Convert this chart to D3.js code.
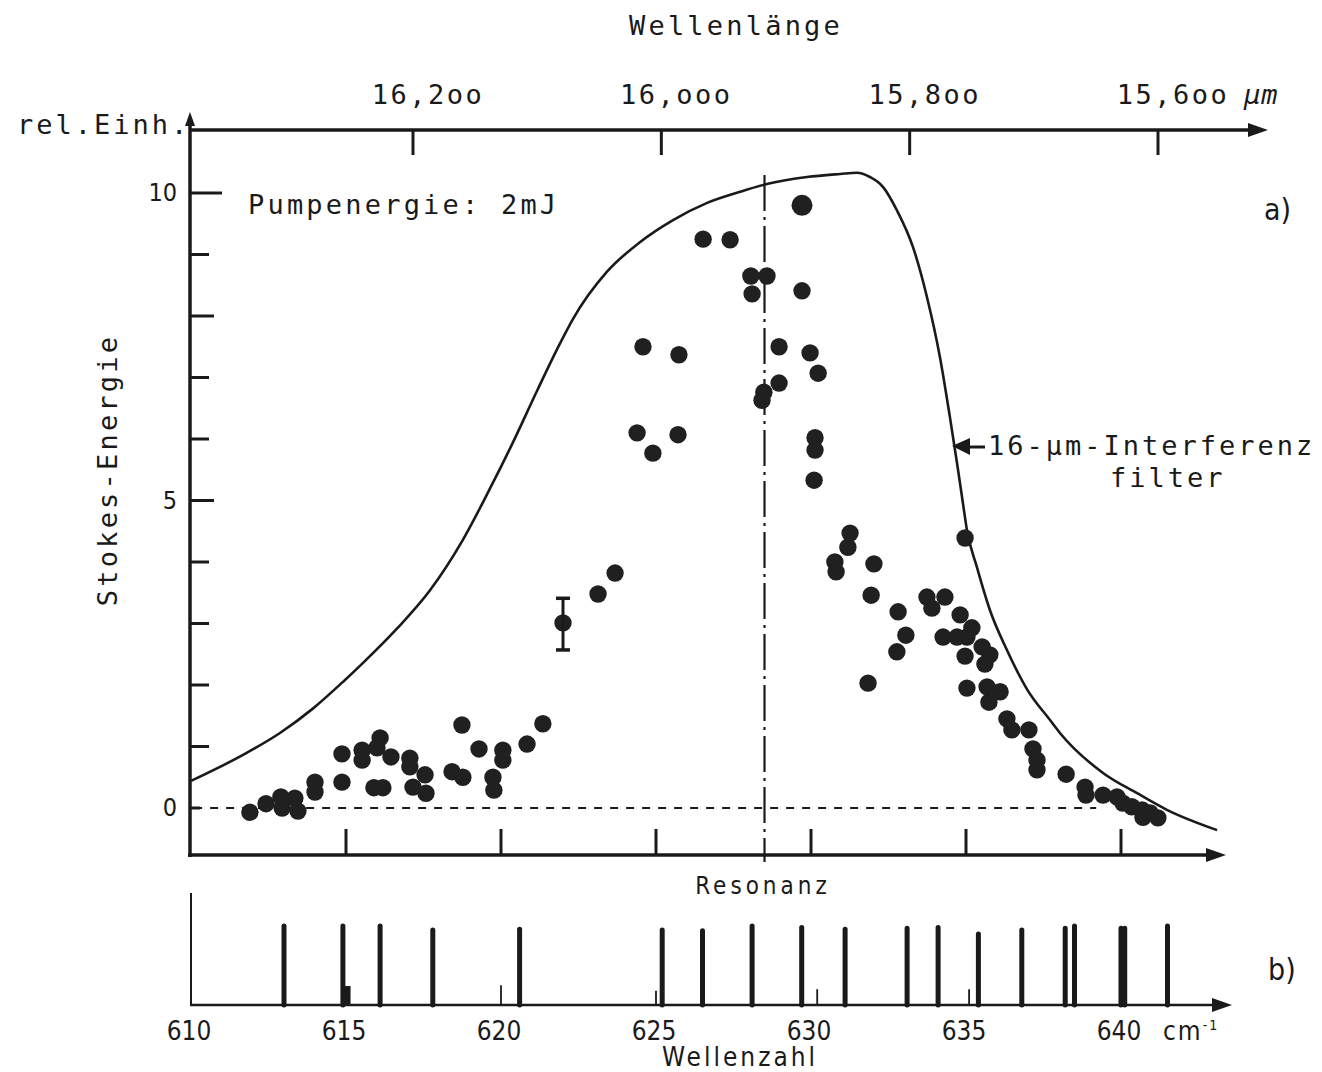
<!DOCTYPE html>
<html><head><meta charset="utf-8">
<script src="https://cdn.jsdelivr.net/npm/d3@7"></script>
<style>
html,body{margin:0;padding:0;background:#fff;}
svg{display:block;}
.tw{font-family:"DejaVu Sans Mono",monospace;fill:#1a1a1a;}
.sn{font-family:"DejaVu Sans Condensed","DejaVu Sans",sans-serif;fill:#1a1a1a;}
</style></head><body>
<svg id="c" width="1322" height="1072"></svg>
<script>
// ---- data ----
const filterWn = [610.0,611.81,612.87,613.94,614.9,615.55,616.65,617.71,618.77,619.65,620.39,621.16,621.9,622.32,623.42,624.48,625.55,626.65,627.71,628.61,629.87,630.94,631.48,631.9,632.32,632.77,633.29,633.74,634.16,634.48,634.71,634.9,635.03,635.35,635.77,636.32,636.97,637.71,638.03,639.42,640.52,641.48,643.1];
const filterVal = [0.44,0.9,1.22,1.62,2.05,2.36,2.92,3.54,4.36,5.2,5.95,6.78,7.55,7.95,8.72,9.2,9.56,9.84,10.02,10.15,10.26,10.31,10.33,10.26,10.1,9.72,9.12,8.31,7.33,6.36,5.61,4.96,4.52,3.92,3.22,2.57,1.93,1.43,1.22,0.57,0.24,-0.03,-0.36];

const pointWn = [611.9,612.42,612.9,612.94,613.35,613.45,614.0,614.0,614.87,614.87,615.52,615.52,616.1,616.0,616.45,615.9,616.19,617.06,617.06,617.55,617.16,617.58,618.42,618.77,618.74,619.29,619.74,619.77,620.06,620.06,620.84,621.35,622.0,623.13,623.68,624.39,624.9,625.71,624.58,625.74,626.52,627.39,628.06,628.58,628.1,628.97,628.97,628.48,628.42,629.71,629.71,629.97,630.23,630.13,630.13,630.1,631.26,631.19,630.77,630.81,632.03,631.94,632.81,633.06,632.77,631.84,634.97,633.74,634.32,633.9,634.81,635.19,634.26,634.71,635.03,634.97,635.52,635.77,635.61,635.03,635.68,636.1,635.74,636.32,636.48,637.03,637.16,637.29,637.29,638.23,638.84,638.87,639.42,639.87,640.06,640.35,640.68,640.94,641.19,640.71];
const pointVal = [-0.07,0.07,0.18,0.0,0.16,-0.05,0.42,0.26,0.88,0.42,0.94,0.78,1.14,0.98,0.83,0.33,0.33,0.81,0.67,0.54,0.34,0.24,0.59,0.5,1.35,0.96,0.5,0.29,0.94,0.78,1.04,1.37,3.01,3.48,3.82,6.1,5.77,6.07,7.5,7.37,9.25,9.24,8.65,8.65,8.36,7.5,6.91,6.76,6.63,9.8,8.41,7.4,7.07,6.02,5.82,5.33,4.47,4.24,4.0,3.84,3.97,3.46,3.19,2.81,2.54,2.03,4.39,3.43,3.43,3.25,3.14,2.93,2.78,2.78,2.78,2.47,2.62,2.49,2.34,1.95,1.97,1.89,1.72,1.45,1.27,1.27,0.96,0.78,0.62,0.55,0.34,0.21,0.21,0.18,0.08,0.02,-0.03,-0.08,-0.16,-0.15];

const errWn = 622.0, errLow = 2.57, errHigh = 3.41;
const resonanceWn = 628.5;

const lineWn = [613.0,614.9,616.1,617.8,620.6,625.2,626.5,628.1,629.7,631.1,633.1,634.1,635.4,636.8,638.2,638.5,640.0,640.12,641.5];
const lineInt = [1.0,1.0,1.0,0.95,0.96,0.95,0.94,1.0,0.98,0.96,0.97,0.98,0.9,0.95,0.97,1.0,0.97,0.97,1.0];
const weakWn = [620.0,625.0,630.2,635.1];
const weakInt = [0.25,0.18,0.2,0.2];
const stubWn = [615.05], stubInt = [0.24];

const yTicks = [0,1,2,3,4,5,6,7,8,9,10];
const yLabels = [0,5,10];
const xTicks = [615,620,625,630,635,640];
const xLabels = [610,615,620,625,630,635,640];
const topTicks = [16.2,16.0,15.8,15.6];
const topLabels = ["16,2oo","16,ooo","15,8oo","15,6oo"];

// ---- scales ----
const x = d3.scaleLinear().domain([610,640]).range([191,1121]);
const y = d3.scaleLinear().domain([0,10]).range([808,193]);
const xTop = d3.scaleLinear().domain([16.2,15.6]).range([413,1158]);
const yB = d3.scaleLinear().domain([0,1]).range([1005,926]);

const svg = d3.select("#c");
const ink = "#1a1a1a";
svg.append("rect").attr("width",1322).attr("height",1072).attr("fill","#fff");

function arrowRight(tx,ty){ svg.append("path").attr("d",`M${tx},${ty} L${tx-20},${ty-7} L${tx-20},${ty+7} Z`).attr("fill",ink); }

// main y axis
svg.append("line").attr("x1",190).attr("x2",190).attr("y1",118).attr("y2",857).attr("stroke",ink).attr("stroke-width",3.5);
svg.append("path").attr("d","M190,112 L185,126 L195,126 Z").attr("fill",ink);
svg.selectAll(".yt").data(yTicks).join("line")
  .attr("x1",190).attr("x2",d=>190+(d===10?32:d===5||d===8?24:d===0?10:19))
  .attr("y1",d=>y(d)).attr("y2",d=>y(d)).attr("stroke",ink).attr("stroke-width",3);
svg.selectAll(".yl").data(yLabels).join("text").attr("class","sn")
  .attr("x",177).attr("y",d=>y(d)+8).attr("text-anchor","end").attr("font-size",25).text(d=>d);

// main x axis
svg.append("line").attr("x1",188).attr("x2",1210).attr("y1",855).attr("y2",855).attr("stroke",ink).attr("stroke-width",3.5);
arrowRight(1226,855);
svg.selectAll(".xt").data(xTicks).join("line")
  .attr("x1",d=>x(d)).attr("x2",d=>x(d)).attr("y1",855).attr("y2",829).attr("stroke",ink).attr("stroke-width",3);

// top axis
svg.append("line").attr("x1",190).attr("x2",1252).attr("y1",130).attr("y2",130).attr("stroke",ink).attr("stroke-width",3.5);
arrowRight(1268,130);
svg.selectAll(".tt").data(topTicks).join("line")
  .attr("x1",d=>xTop(d)).attr("x2",d=>xTop(d)).attr("y1",130).attr("y2",155).attr("stroke",ink).attr("stroke-width",3);
svg.selectAll(".tl").data(topTicks).join("text").attr("class","tw")
  .attr("x",d=>xTop(d)+15).attr("y",104).attr("text-anchor","middle").attr("font-size",27).attr("letter-spacing",2.5)
  .text((d,i)=>topLabels[i]);
svg.append("text").attr("class","tw").attr("x",1244).attr("y",104).attr("font-size",27).attr("letter-spacing",1).attr("font-style","italic").text("µm");
svg.append("text").attr("class","tw").attr("x",736).attr("y",35).attr("text-anchor","middle").attr("font-size",27).attr("letter-spacing",3.2).text("Wellenlänge");
svg.append("text").attr("class","tw").attr("x",17).attr("y",134).attr("font-size",27).attr("letter-spacing",3).text("rel.Einh.");

// y title
svg.append("text").attr("class","tw").attr("transform","translate(117,470) rotate(-90)").attr("text-anchor","middle")
  .attr("font-size",27).attr("letter-spacing",3.2).text("Stokes-Energie");

// annotations
svg.append("text").attr("class","tw").attr("x",248).attr("y",214).attr("font-size",27).attr("letter-spacing",3.2).text("Pumpenergie: 2mJ");
svg.append("text").attr("class","sn").attr("x",1264).attr("y",220).attr("font-size",30).attr("font-weight",300).text("a)");
svg.append("text").attr("class","tw").attr("x",988).attr("y",455).attr("font-size",27).attr("letter-spacing",3).text("16-µm-Interferenz");
svg.append("text").attr("class","tw").attr("x",1110).attr("y",487).attr("font-size",27).attr("letter-spacing",3).text("filter");
svg.append("line").attr("x1",962).attr("x2",985).attr("y1",447).attr("y2",447).attr("stroke",ink).attr("stroke-width",3);
svg.append("path").attr("d","M952,446 L970,438 L970,455 Z").attr("fill",ink);

// zero dashed line
svg.append("line").attr("x1",x(610.1)).attr("x2",x(639.2)).attr("y1",y(0)).attr("y2",y(0))
  .attr("stroke",ink).attr("stroke-width",1.8).attr("stroke-dasharray","8,8");

// resonance dash-dot line
svg.append("line").attr("x1",x(resonanceWn)).attr("x2",x(resonanceWn)).attr("y1",175).attr("y2",862)
  .attr("stroke",ink).attr("stroke-width",2.2).attr("stroke-dasharray","36,6,3,6");

// filter curve
const fdata = filterWn.map((w,i)=>[w,filterVal[i]]);
svg.append("path").datum(fdata)
  .attr("d",d3.line().x(d=>x(d[0])).y(d=>y(d[1])).curve(d3.curveMonotoneX))
  .attr("fill","none").attr("stroke",ink).attr("stroke-width",2.6);

// points
const pdata = pointWn.map((w,i)=>[w,pointVal[i]]);
svg.selectAll(".pt").data(pdata).join("circle")
  .attr("cx",d=>x(d[0])).attr("cy",d=>y(d[1])).attr("r",d=>d[1]>9.7?10.5:8.7).attr("fill","#202020");

// error bar
svg.append("line").attr("x1",x(errWn)).attr("x2",x(errWn)).attr("y1",y(errLow)).attr("y2",y(errHigh)).attr("stroke",ink).attr("stroke-width",3);
[errLow,errHigh].forEach(v=>svg.append("line").attr("x1",x(errWn)-7).attr("x2",x(errWn)+7).attr("y1",y(v)).attr("y2",y(v)).attr("stroke",ink).attr("stroke-width",3.5));

// ---- panel b ----
svg.append("text").attr("class","sn").attr("x",763).attr("y",894).attr("text-anchor","middle").attr("font-size",24).attr("letter-spacing",4).text("Resonanz");
svg.append("line").attr("x1",191).attr("x2",191).attr("y1",893).attr("y2",1006).attr("stroke",ink).attr("stroke-width",2);
svg.append("line").attr("x1",190).attr("x2",1215).attr("y1",1005).attr("y2",1005).attr("stroke",ink).attr("stroke-width",2.5);
arrowRight(1232,1005);
svg.selectAll(".rl").data(lineWn).join("line")
  .attr("x1",d=>x(d)).attr("x2",d=>x(d)).attr("y1",1005).attr("y2",(d,i)=>yB(lineInt[i]))
  .attr("stroke",ink).attr("stroke-width",5).attr("stroke-linecap","round");
svg.selectAll(".wl").data(weakWn).join("line")
  .attr("x1",d=>x(d)).attr("x2",d=>x(d)).attr("y1",1005).attr("y2",(d,i)=>yB(weakInt[i]))
  .attr("stroke",ink).attr("stroke-width",1.8);
svg.selectAll(".sl").data(stubWn).join("line")
  .attr("x1",d=>x(d)).attr("x2",d=>x(d)).attr("y1",1005).attr("y2",(d,i)=>yB(stubInt[i]))
  .attr("stroke",ink).attr("stroke-width",6);
svg.selectAll(".bl").data(xLabels).join("text").attr("class","sn")
  .attr("x",d=>x(d)-2).attr("y",1040).attr("text-anchor","middle").attr("font-size",26).text(d=>d);
const cm = svg.append("text").attr("class","sn").attr("x",1163).attr("y",1040).attr("font-size",26).attr("letter-spacing",2);
cm.append("tspan").text("cm");
cm.append("tspan").attr("dy",-10).attr("font-size",14).text("-1");
svg.append("text").attr("class","sn").attr("x",740).attr("y",1066).attr("text-anchor","middle").attr("font-size",26).attr("letter-spacing",3).text("Wellenzahl");
svg.append("text").attr("class","sn").attr("x",1268).attr("y",980).attr("font-size",30).attr("font-weight",300).text("b)");
</script>
</body></html>
